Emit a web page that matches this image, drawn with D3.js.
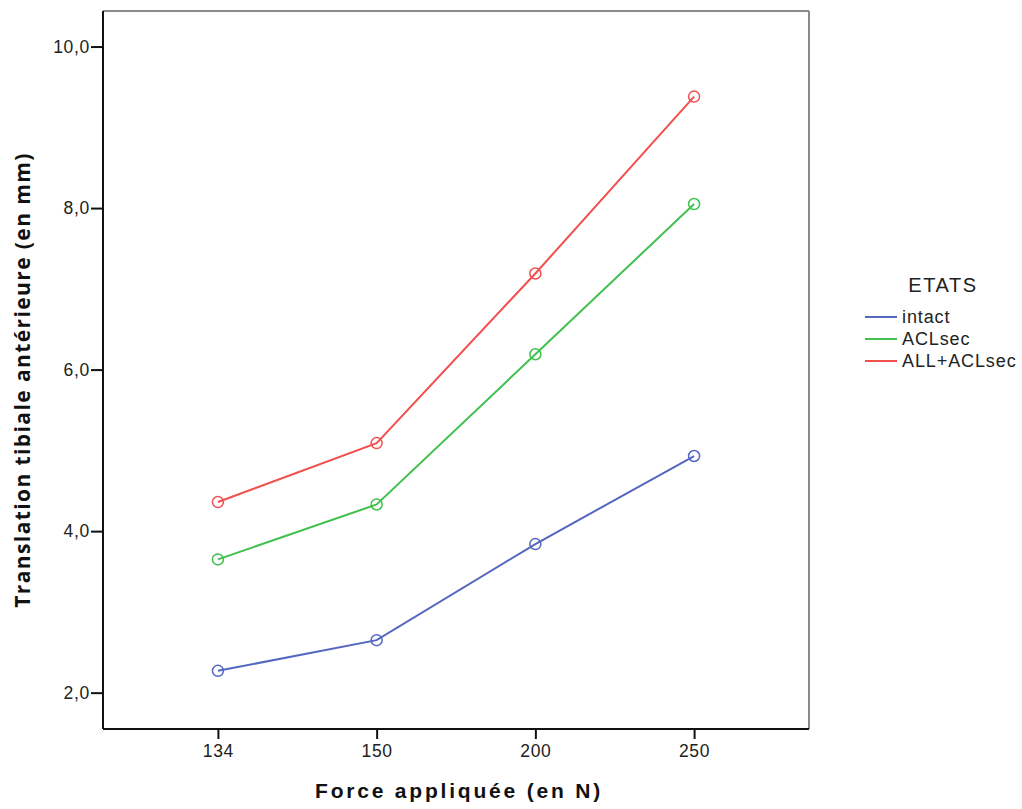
<!DOCTYPE html>
<html><head><meta charset="utf-8">
<script src="https://cdn.jsdelivr.net/npm/d3@7"></script>
<style>body{margin:0;background:#fff;} svg{display:block;}</style>
</head><body>
<svg id="chart" width="1022" height="809"></svg>
<script>
const categories = ["134", "150", "200", "250"];
const seriesNames = ["intact", "ACLsec", "ALL+ACLsec"];
const intact = [2.27, 2.65, 3.84, 4.93];
const aclsec = [3.65, 4.33, 6.19, 8.05];
const allAclsec = [4.36, 5.09, 7.19, 9.38];
const yTicks = [2, 4, 6, 8, 10];
const colors = ["#5367c0", "#41c04f", "#f24f4f"];
const legendTitle = "ETATS";
const xTitle = "Force appliquée (en N)";
const yTitle = "Translation tibiale antérieure (en mm)";

const series = [intact, aclsec, allAclsec].map((v, i) => ({name: seriesNames[i], values: v, color: colors[i]}));

const svg = d3.select("#chart");
const L = 103, R = 809, T = 11, B = 729;

const x = d3.scalePoint().domain(categories).range([L, R]).padding(0.724);
const y = d3.scaleLinear().domain([1.55, 10.44]).range([B, T]);

const fmt = d => d.toFixed(1).replace(".", ",");
const tickFont = sel => sel.attr("fill", "#222").style("font-family", "Liberation Sans, Arial, sans-serif")
  .style("font-size", "17.5px").style("letter-spacing", "0.7px");

// frame: top & right gray
svg.append("line").attr("x1", L).attr("x2", R).attr("y1", T).attr("y2", T).attr("stroke", "#8a8a8a").attr("stroke-width", 2);
svg.append("line").attr("x1", R).attr("x2", R).attr("y1", T).attr("y2", B).attr("stroke", "#8a8a8a").attr("stroke-width", 2);

// y axis
const yAxis = svg.append("g").attr("transform", `translate(${L},0)`)
  .call(d3.axisLeft(y).tickValues(yTicks).tickFormat(fmt).tickSizeOuter(0).tickSize(12).tickPadding(1));
yAxis.select(".domain").attr("d", `M0,${T}V${B}`).attr("stroke", "#111").attr("stroke-width", 2);
yAxis.selectAll(".tick line").attr("stroke", "#111").attr("stroke-width", 2);
yAxis.selectAll(".tick text").call(tickFont);

// x axis
const xAxis = svg.append("g").attr("transform", `translate(0,${B})`)
  .call(d3.axisBottom(x).tickSizeOuter(0).tickSize(10).tickPadding(6));
xAxis.select(".domain").attr("d", `M${L},0H${R}`).attr("stroke", "#111").attr("stroke-width", 2);
xAxis.selectAll(".tick line").attr("stroke", "#111").attr("stroke-width", 2);
xAxis.selectAll(".tick text").call(tickFont);

// lines and markers
const line = d3.line().x((d, i) => x(categories[i])).y(d => y(d));
series.forEach(s => {
  svg.append("path").datum(s.values).attr("d", line).attr("fill", "none")
    .attr("stroke", s.color).attr("stroke-width", 2);
  svg.selectAll(null).data(s.values).enter().append("circle")
    .attr("cx", (d, i) => x(categories[i])).attr("cy", d => y(d)).attr("r", 5.5)
    .attr("fill", "none").attr("stroke", s.color).attr("stroke-width", 1.5);
});

// axis titles
svg.append("text").attr("x", (L + R) / 2 + 3).attr("y", 798).attr("text-anchor", "middle")
  .style("font-family", "Liberation Sans, Arial, sans-serif").style("font-weight", "bold")
  .style("font-size", "21px").style("letter-spacing", "2.8px").attr("fill", "#111").text(xTitle);
svg.append("text").attr("transform", `translate(30,${(T + B) / 2 + 10}) rotate(-90)`).attr("text-anchor", "middle")
  .style("font-family", "Open Sans, sans-serif").style("font-weight", "bold")
  .style("font-size", "21px").style("letter-spacing", "1.4px").attr("fill", "#111").text(yTitle);

// legend
const lg = svg.append("g");
lg.append("text").attr("x", 943).attr("y", 292).attr("text-anchor", "middle")
  .style("font-family", "Liberation Sans, Arial, sans-serif").style("font-size", "20px").style("letter-spacing", "1.6px")
  .attr("fill", "#222").text(legendTitle);
const ly = d3.scalePoint().domain(seriesNames).range([317, 361]);
seriesNames.forEach((n, i) => {
  lg.append("line").attr("x1", 865).attr("x2", 897).attr("y1", ly(n)).attr("y2", ly(n))
    .attr("stroke", colors[i]).attr("stroke-width", 2);
  lg.append("text").attr("x", 902).attr("y", ly(n) + 6)
    .style("font-family", "Liberation Sans, Arial, sans-serif").style("font-size", "18px").style("letter-spacing", "0.9px")
    .attr("fill", "#222").text(n);
});
</script>
</body></html>
